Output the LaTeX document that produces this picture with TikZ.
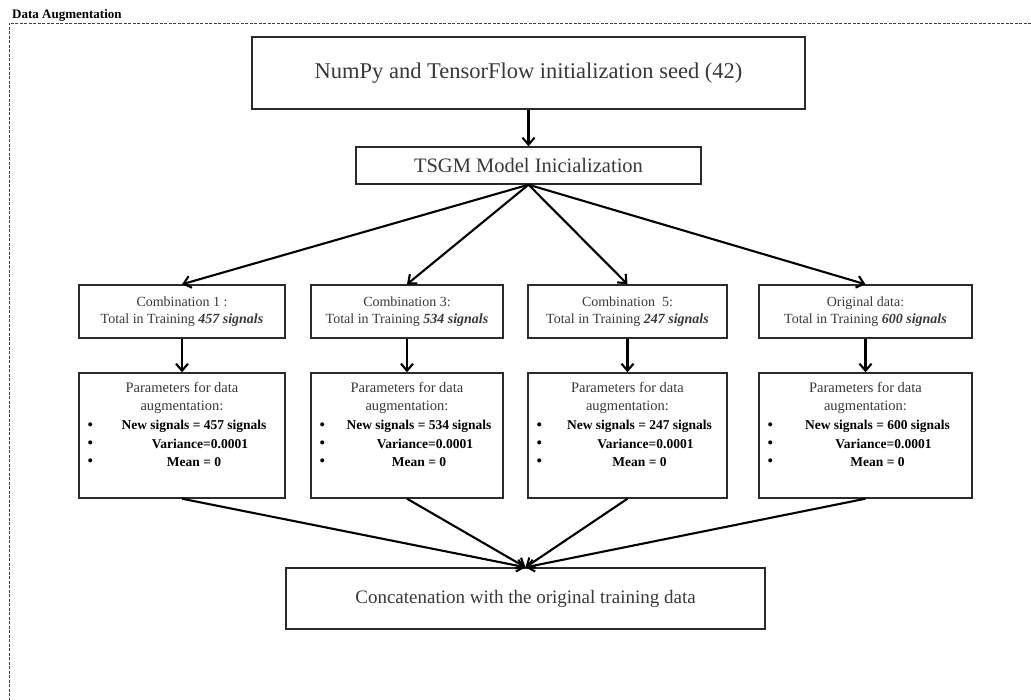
\documentclass[tikz,border=0pt]{standalone}
\usepackage{fontspec}
\setmainfont{Liberation Serif}
\usetikzlibrary{arrows.meta,calc}
\definecolor{txt}{HTML}{383838}
\definecolor{edge}{HTML}{2A2A2A}
\tikzset{
  box/.style={draw=edge, line width=1.4pt, rectangle, inner sep=0pt, text=txt, align=center},
  arr/.style={line width=2.1pt, -{Straight Barb[length=7pt,width=12pt,line width=2.1pt]}},
  frame/.style={draw=black!75, line width=0.9pt, dash pattern=on 3pt off 1.5pt},
  ctext/.style={text=txt, align=center, font=\fontsize{14}{17}\selectfont},
  btext/.style={text=black, font=\bfseries\fontsize{13.5}{16}\selectfont},
  bul/.style={text=black, font=\fontsize{17}{18}\selectfont}
}
\begin{document}
\begin{tikzpicture}[x=1pt,y=-1pt]
\useasboundingbox (0,0) rectangle (1031,700);
% frame
\coordinate (ftl) at (9,23);
\coordinate (ftr) at (1031,23);
\coordinate (fbl) at (9,700);
\draw[frame] (ftr) -- (ftl) -- (fbl);
\node[anchor=base west, inner sep=0pt, font=\bfseries\fontsize{13}{15}\selectfont] (title) at (12,19) {Data Augmentation};
% top boxes
\node[box, minimum width=553pt, minimum height=72pt, font=\fontsize{22.5}{26}\selectfont] (seed) at (528.5,73) {NumPy and TensorFlow initialization seed (42)};
\node[box, minimum width=345pt, minimum height=37pt, font=\fontsize{20.5}{24}\selectfont] (tsgm) at (528.5,165.5) {TSGM Model Inicialization};
\draw[arr] (seed.south) -- (tsgm.north);
% columns
\foreach \i/\l/\r/\lab/\n in {1/79/285/{Combination 1 :}/457, 2/311/503/{Combination 3:}/534, 3/528/727/{Combination\ \ 5:}/247, 4/759/972/{Original data:}/600}{
  \pgfmathsetmacro{\cx}{(\l+\r)/2}
  \pgfmathsetmacro{\w}{\r-\l}
  \node[box, minimum width=\w pt, minimum height=53pt] (c\i) at (\cx,311.5) {};
  \node[ctext] (ct\i) at (c\i.center) {\lab\\Total in Training \textbf{\textit{\n\ signals}}};
  \node[box, minimum width=\w pt, minimum height=125pt] (p\i) at (\cx,435.5) {};
  \node[ctext, font=\fontsize{14.5}{18}\selectfont] (ph\i) at ($(p\i.north)+(0,26)$) {Parameters for data\\augmentation:};
  \node[bul] (b1\i) at ($(p\i.north west)+(12,54)$) {\textbullet};
  \node[bul] (b2\i) at ($(p\i.north west)+(12,72)$) {\textbullet};
  \node[bul] (b3\i) at ($(p\i.north west)+(12,90)$) {\textbullet};
  \node[btext] (n\i) at ($(p\i.north)+(12,54)$) {New signals = \n\ signals};
  \node[btext] (v\i) at ($(p\i.north)+(18,72)$) {Variance=0.0001};
  \node[btext] (m\i) at ($(p\i.north)+(12,90)$) {Mean = 0};
  \draw[arr] (tsgm.south) -- (c\i.north);
  \draw[arr] (c\i.south) -- (p\i.north);
}
\node[box, minimum width=479pt, minimum height=61pt, font=\fontsize{19}{22}\selectfont] (concat) at (525.5,598.5) {Concatenation with the original training data};
\foreach \i in {1,2,3,4}{
  \draw[arr] (p\i.south) -- (concat.north);
}
\end{tikzpicture}
\end{document}
